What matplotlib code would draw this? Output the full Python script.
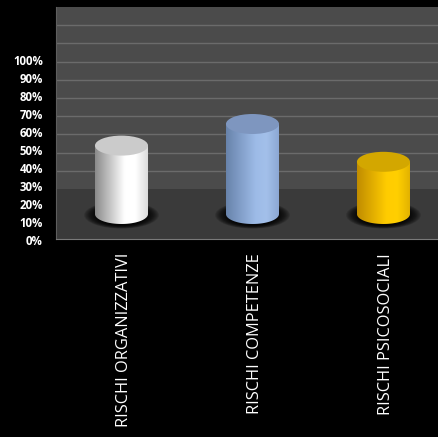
import numpy as np
import matplotlib
matplotlib.use("Agg")
import matplotlib.pyplot as plt
import matplotlib.transforms as mtransforms
from matplotlib.colors import LinearSegmentedColormap
from matplotlib.patches import Ellipse, Polygon

categories = ["RISCHI ORGANIZZATIVI", "RISCHI COMPETENZE", "RISCHI PSICOSOCIALI"]
values = [38, 50, 29]
tick_values = list(range(0, 101, 10))
tick_labels = [f"{t}%" for t in tick_values]

# body gradient (left, mid, right) and top colour for each cylinder
body_colors = [
    ["#8a8a8a", "#ffffff", "#ffffff", "#d9d9d9"],
    ["#6883ab", "#9dbbe7", "#a3c0ea", "#8aa6d2"],
    ["#c08c00", "#ffcc00", "#ffcf00", "#e0b000"],
]
top_colors = ["#cbcbcb", "#7e96bf", "#d3a700"]

W, H = 439, 437
fig = plt.figure(figsize=(W / 100, H / 100), dpi=100, facecolor="black")


def px_axes(x0, y0, x1, y1):
    # axes from pixel box (top-left origin)
    return fig.add_axes([x0 / W, 1 - y1 / H, (x1 - x0) / W, (y1 - y0) / H])


# back wall
wall = px_axes(56, 7, 439, 189)
wall.set_facecolor("#4b4b4b")
wall.set_ylim(0, 100)
wall.set_xlim(0, 1)
for t in tick_values[1:-1]:
    wall.axhline(t, color="#6b6b6b", lw=1)
wall.set_xticks([])
wall.set_yticks([])
for s in wall.spines.values():
    s.set_visible(False)
wall.spines["left"].set_visible(True)
wall.spines["left"].set_color("#5e5e5e")

# floor
floor = px_axes(56, 189, 439, 239)
floor.set_facecolor("#3a3a3a")
floor.set_xticks([])
floor.set_yticks([])
for s in floor.spines.values():
    s.set_visible(False)
floor.spines["bottom"].set_visible(True)
floor.spines["bottom"].set_color("#7a7a7a")
floor.spines["left"].set_visible(True)
floor.spines["left"].set_color("#5e5e5e")

# value labels along the front edge
lab = px_axes(56, 60, 60, 240)
lab.patch.set_visible(False)
lab.set_ylim(0, 100)
lab.set_xticks([])
lab.set_yticks(tick_values)
lab.set_yticklabels(tick_labels, color="white", fontsize=8.3,
                    fontweight="bold", family="Open Sans")
lab.tick_params(axis="y", length=0, pad=9.5)
for s in lab.spines.values():
    s.set_visible(False)

# cylinders
ax = px_axes(56, 7, 439, 239)
ax.patch.set_visible(False)
ax.set_xlim(-0.5, 2.424)
ax.set_ylim(-13.89, 115.0)
for s in ax.spines.values():
    s.set_visible(False)
ax.set_yticks([])

w = 0.405
eh = 11.1
t = np.linspace(np.pi, 2 * np.pi, 60)
for i, v in enumerate(values):
    # soft shadow on the floor
    for k in range(12):
        f = 1 - k / 12
        ax.add_patch(Ellipse((i, -0.6), 0.57 * f + w * (1 - f) * 0.9,
                             15 * f + eh * (1 - f), facecolor="black",
                             alpha=0.14, lw=0, zorder=1))
    cmap = LinearSegmentedColormap.from_list(
        f"c{i}", list(zip([0, 0.55, 0.75, 1], body_colors[i])))
    grad = np.linspace(0, 1, 256).reshape(1, -1)
    im = ax.imshow(grad, cmap=cmap, aspect="auto", zorder=2,
                   extent=[i - w / 2, i + w / 2, -eh / 2, v],
                   interpolation="bilinear")
    xs = i + w / 2 * np.cos(t)
    ys = eh / 2 * np.sin(t)
    pts = np.column_stack([np.r_[xs, i + w / 2, i - w / 2],
                           np.r_[ys, v, v]])
    body = Polygon(pts, closed=True, facecolor="none", lw=0)
    ax.add_patch(body)
    im.set_clip_path(body)
    ax.add_patch(Ellipse((i, v), w, eh, facecolor=top_colors[i],
                         lw=0, zorder=3))

ax.set_xticks(range(len(categories)))
ax.set_xticklabels(categories, rotation=90, color="white", fontsize=11.8,
                   family="Open Sans", va="top")
ax.tick_params(axis="x", length=0, pad=10)
shift = mtransforms.ScaledTranslation(3 / 100, 0, fig.dpi_scale_trans)
for lbl in ax.get_xticklabels():
    lbl.set_transform(lbl.get_transform() + shift)

fig.savefig("out.png", dpi=100, facecolor="black")
